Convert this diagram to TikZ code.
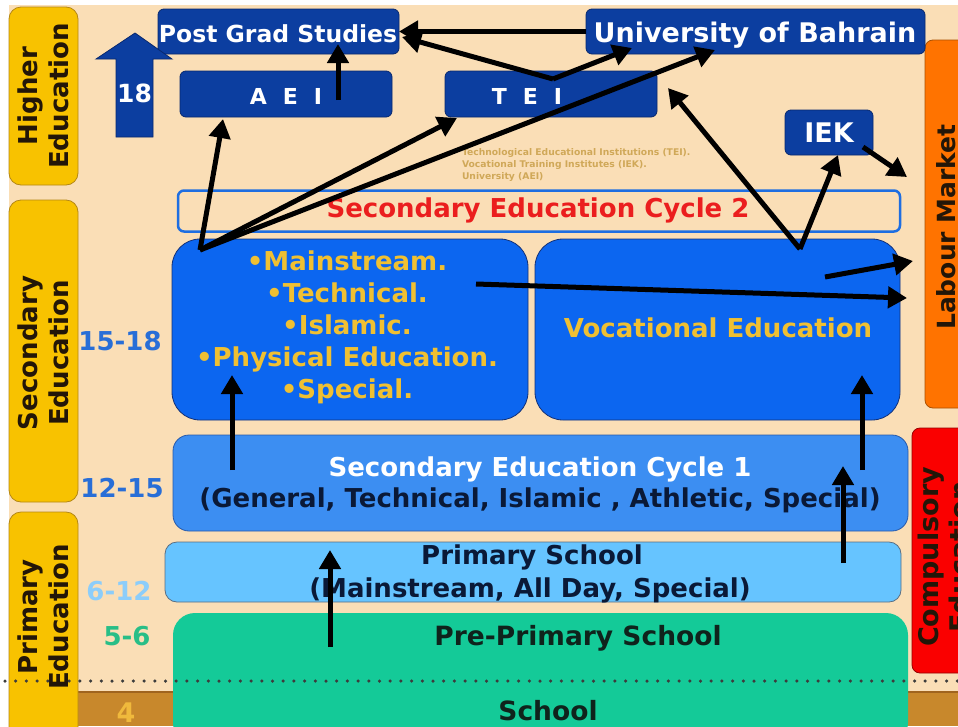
\documentclass[tikz,border=0pt]{standalone}
\usepackage{fontspec}
\setmainfont{DejaVu Sans}
\usetikzlibrary{arrows.meta}
\definecolor{bg}{RGB}{250,222,182}
\definecolor{brownstrip}{RGB}{200,136,44}
\definecolor{browndark}{RGB}{160,100,30}
\definecolor{ylw}{RGB}{248,194,0}
\definecolor{ylwb}{RGB}{180,135,20}
\definecolor{db}{RGB}{12,62,160}
\definecolor{dbb}{RGB}{8,40,110}
\definecolor{bigblue}{RGB}{12,102,240}
\definecolor{bigblueb}{RGB}{20,50,120}
\definecolor{cyc}{RGB}{60,142,242}
\definecolor{cycb}{RGB}{40,90,170}
\definecolor{prim}{RGB}{102,196,255}
\definecolor{primb}{RGB}{90,110,130}
\definecolor{grn}{RGB}{20,202,152}
\definecolor{orng}{RGB}{255,115,0}
\definecolor{orngb}{RGB}{170,80,0}
\definecolor{rd}{RGB}{250,0,0}
\definecolor{rdb}{RGB}{150,0,0}
\definecolor{c2b}{RGB}{30,110,225}
\definecolor{c2t}{RGB}{235,30,30}
\definecolor{ytext}{RGB}{240,192,50}
\definecolor{agebl}{RGB}{40,110,215}
\definecolor{agelb}{RGB}{140,205,250}
\definecolor{agegr}{RGB}{40,190,135}
\definecolor{agefour}{RGB}{240,185,60}
\definecolor{navy}{RGB}{10,25,55}
\definecolor{darkgrn}{RGB}{15,35,28}
\definecolor{labtext}{RGB}{35,22,8}
\definecolor{notetext}{RGB}{208,168,88}
\definecolor{dotc}{RGB}{60,60,60}
\begin{document}
\begin{tikzpicture}[x=1pt,y=-1pt,
  every node/.style={inner sep=0pt, outer sep=0pt},
  fs/.style={font=\bfseries\fontsize{#1}{#1}\selectfont},
  arr/.style={line width=5pt, draw=black, -{Triangle[length=19pt,width=21pt]}},
  dbox/.style={draw=dbb, line width=0.8pt, fill=db, rounded corners=6pt},
  sidebox/.style={draw=ylwb, line width=0.8pt, fill=ylw, rounded corners=12pt, minimum width=69pt},
  lbl/.style={rotate=90, anchor=base, fs=26, text=labtext},
  txt/.style={anchor=base}
]
\useasboundingbox (0,0) rectangle (958,726);
% background
\fill[white] (0,0) rectangle (958,726);
\fill[bg] (9,5) rectangle (958,726);
\fill[brownstrip] (77,692) rectangle (958,726);
\draw[browndark, line width=2pt] (77,692) -- (958,692);

% side boxes
\node[sidebox, minimum height=178pt] (he) at (43.5,96) {};
\node[sidebox, minimum height=302pt] (se) at (43.5,351) {};
\node[sidebox, minimum height=228pt] (pe) at (43.5,626) {};
\node[draw=orngb, line width=0.8pt, fill=orng, rounded corners=8pt, minimum width=60pt, minimum height=368pt] (lm) at (955,224) {};
\node[draw=rdb, line width=0.8pt, fill=rd, rounded corners=8pt, minimum width=63pt, minimum height=245pt] (ce) at (943.5,550.5) {};

% main boxes
\node[draw=c2b, line width=2.5pt, fill=bg, rounded corners=6pt, minimum width=722pt, minimum height=41pt] (c2) at (539,211) {};
\node[draw=bigblueb, line width=0.8pt, fill=bigblue, rounded corners=28pt, minimum width=356pt, minimum height=181pt] (ms) at (350,329.5) {};
\node[draw=bigblueb, line width=0.8pt, fill=bigblue, rounded corners=28pt, minimum width=365pt, minimum height=181pt] (vo) at (717.5,329.5) {};
\node[draw=cycb, line width=0.8pt, fill=cyc, rounded corners=16pt, minimum width=735pt, minimum height=96pt] (c1) at (540.5,483) {};
\node[draw=primb, line width=0.8pt, fill=prim, rounded corners=12pt, minimum width=736pt, minimum height=60pt] (ps) at (533,572) {};
\node[fill=grn, rounded corners=22pt, minimum width=735pt, minimum height=132pt] (pp) at (540.5,679) {};

% dark blue boxes
\node[dbox, minimum width=241pt, minimum height=45pt] (pg) at (278.5,31.5) {};
\node[dbox, minimum width=339pt, minimum height=45pt] (ub) at (755.5,31.5) {};
\node[dbox, minimum width=212pt, minimum height=46pt] (aei) at (286,94) {};
\node[dbox, minimum width=212pt, minimum height=46pt] (tei) at (551,94) {};
\node[dbox, minimum width=88pt, minimum height=45pt] (iek) at (829,132.5) {};

% big up arrow
\filldraw[fill=db, draw=dbb, line width=0.8pt] (116,137) -- (116,59) -- (96,59) -- (135,33) -- (172,59) -- (153,59) -- (153,137) -- cycle;
\node[txt, fs=25, text=white] (n18) at (134.5,102) {18};

% dotted line
\draw[line width=3.5pt, line cap=round, dash pattern=on 0pt off 10.7pt, draw=dotc] (5,681) -- (958,681);

% side labels
\node[lbl] (he1) at (37,96) {Higher};
\node[lbl] (he2) at (68,96) {Education};
\node[lbl] (se1) at (37,353) {Secondary};
\node[lbl] (se2) at (68,353) {Education};
\node[lbl] (pe1) at (37,617) {Primary};
\node[lbl] (pe2) at (68,617) {Education};
\node[rotate=90, anchor=base, fs=25, text=labtext] (lmt) at (955,227) {Labour Market};
\node[rotate=90, anchor=base, fs=27, text=labtext] (ce1) at (938,557) {Compulsory};
\node[rotate=90, anchor=base, fs=27, text=labtext] (ce2) at (969,557) {Education};

% box texts
\node[txt, fs=23.5, text=white] (pgt) at (278,42) {Post Grad Studies};
\node[txt, fs=27, text=white] (ubt) at (755,42) {University of Bahrain};
\node[txt, fs=22, text=white] (aeit) at (286,104) {A\hspace{16pt}E\hspace{16pt}I};
\node[txt, fs=22, text=white] (teit) at (527,104) {T\hspace{16pt}E\hspace{16pt}I};
\node[txt, fs=27, text=white] (iekt) at (829,142) {IEK};
\node[anchor=north west, align=left, font=\bfseries\fontsize{9.2}{12}\selectfont, text=notetext] (note) at (462,149)
  {Technological Educational Institutions (TEI).\\Vocational Training Institutes (IEK).\\University (AEI)};
\node[txt, fs=26, text=c2t] (c2t) at (538,217) {Secondary Education Cycle 2};
\node[txt, fs=26, text=ytext] (m1) at (347,270) {•Mainstream.};
\node[txt, fs=26, text=ytext] (m2) at (347,302) {•Technical.};
\node[txt, fs=26, text=ytext] (m3) at (347,334) {•Islamic.};
\node[txt, fs=26, text=ytext] (m4) at (347,366) {•Physical Education.};
\node[txt, fs=26, text=ytext] (m5) at (347,398) {•Special.};
\node[txt, fs=26, text=ytext] (vot) at (718,337) {Vocational Education};
\node[txt, fs=26, text=white] (c1a) at (540,476) {Secondary Education Cycle 1};
\node[txt, fs=26, text=navy] (c1b) at (540,507) {(General, Technical, Islamic , Athletic, Special)};
\node[txt, fs=26, text=navy] (psa) at (532,564) {Primary School};
\node[txt, fs=26, text=navy] (psb) at (530,597) {(Mainstream, All Day, Special)};
\node[txt, fs=26.5, text=darkgrn] (ppa) at (578,645) {Pre-Primary School};
\node[txt, fs=26.5, text=darkgrn] (ppb) at (548,720) {School};

% ages
\node[txt, fs=26, text=agebl] (a1) at (120,350) {15-18};
\node[txt, fs=26, text=agebl] (a2) at (122,497) {12-15};
\node[txt, fs=26, text=agelb] (a3) at (119,600) {6-12};
\node[txt, fs=26, text=agegr] (a4) at (127,645) {5-6};
\node[txt, fs=27, text=agefour] (a5) at (126,722) {4};

% connector end points
\coordinate (o1) at (200,250);
\coordinate (o2) at (800,249);
\coordinate (t1) at (553,79);
\coordinate (pgE2) at (402,37);
\coordinate (ubSW) at (632,48);
\coordinate (aeiS) at (338,100);
\coordinate (pgS) at (338,44);
\coordinate (aeiB) at (223,119);
\coordinate (teiB) at (457,118);
\coordinate (ubB) at (715,50);
\coordinate (teiR) at (668,88);
\coordinate (iekB) at (838,155);
\coordinate (iekR) at (863,147);
\coordinate (lm1) at (907,177);
\coordinate (vo1) at (825,277);
\coordinate (lm2) at (913,261);
\coordinate (ms1) at (476,284);
\coordinate (lm3) at (907,298);
\coordinate (c1L) at (232,470);
\coordinate (msB) at (232,375);
\coordinate (c1R) at (862,470);
\coordinate (voB) at (862,375);
\coordinate (psR) at (843,563);
\coordinate (c1T) at (843,466);
\coordinate (ppT) at (330,647);
\coordinate (psT) at (330,550);

% connectors
\draw[arr] (ub.west) -- (pg.east);
\draw[arr] (t1) -- (pgE2);
\draw[arr] (t1) -- (ubSW);
\draw[arr] (aeiS) -- (pgS);
\draw[arr] (o1) -- (aeiB);
\draw[arr] (o1) -- (teiB);
\draw[arr] (o1) -- (ubB);
\draw[arr] (o2) -- (teiR);
\draw[arr] (o2) -- (iekB);
\draw[arr] (iekR) -- (lm1);
\draw[arr] (vo1) -- (lm2);
\draw[arr] (ms1) -- (lm3);
\draw[arr] (c1L) -- (msB);
\draw[arr] (c1R) -- (voB);
\draw[arr] (psR) -- (c1T);
\draw[arr] (ppT) -- (psT);
\end{tikzpicture}
\end{document}
